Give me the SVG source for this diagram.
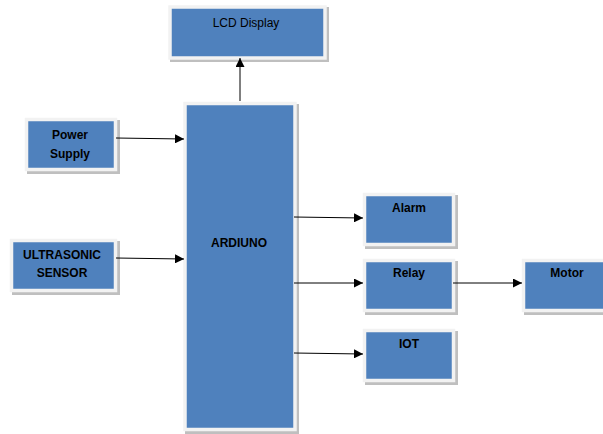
<svg xmlns="http://www.w3.org/2000/svg" width="603" height="434" viewBox="0 0 603 434">
<style>
.sh{fill:#bfbfbf}
.bx{fill:#4f81bd;stroke:#f2f2f2;stroke-width:3.5}
.t{font-family:"Liberation Sans",Arial,sans-serif;font-size:12px;fill:#000;text-anchor:middle}
.b{font-weight:bold}
.c{stroke:#000;stroke-width:1;fill:none;marker-end:url(#ah)}
</style>
<defs>
<marker id="ah" viewBox="0 0 10 10" refX="10" refY="5" markerWidth="9" markerHeight="9" markerUnits="userSpaceOnUse" orient="auto">
<path d="M0,0 L10,5 L0,10 z" fill="#000"/>
</marker>
</defs>
<rect width="603" height="434" fill="#fff"/>
<g id="lcd">
<rect class="sh" x="170" y="7" width="159" height="55"/>
<rect class="bx" x="170" y="7" width="155" height="51"/>
<text class="t" x="246" y="27">LCD Display</text>
</g>
<g id="power">
<rect class="sh" x="27" y="120" width="93" height="54"/>
<rect class="bx" x="26.5" y="119.5" width="89" height="50"/>
<text class="t b" x="70" y="139">Power</text>
<text class="t b" x="70" y="158">Supply</text>
</g>
<g id="ultrasonic">
<rect class="sh" x="12" y="241" width="108" height="54"/>
<rect class="bx" x="11.5" y="240.5" width="104" height="50"/>
<text class="t b" x="62" y="259">ULTRASONIC</text>
<text class="t b" x="62" y="277">SENSOR</text>
</g>
<g id="arduino">
<rect class="sh" x="185" y="104" width="114" height="331"/>
<rect class="bx" x="185" y="103.5" width="110" height="326"/>
<text class="t b" x="239" y="247">ARDIUNO</text>
</g>
<g id="alarm">
<rect class="sh" x="365" y="195" width="93" height="54"/>
<rect class="bx" x="364.5" y="194.5" width="89" height="50"/>
<text class="t b" x="409" y="212">Alarm</text>
</g>
<g id="relay">
<rect class="sh" x="365" y="261" width="93" height="54"/>
<rect class="bx" x="364.5" y="260.5" width="89" height="50"/>
<text class="t b" x="409" y="277">Relay</text>
</g>
<g id="motor">
<rect class="sh" x="524" y="261" width="93" height="54"/>
<rect class="bx" x="523.5" y="260.5" width="89" height="50"/>
<text class="t b" x="567" y="277">Motor</text>
</g>
<g id="iot">
<rect class="sh" x="365" y="331" width="93" height="54"/>
<rect class="bx" x="364.5" y="330.5" width="89" height="50"/>
<text class="t b" x="409" y="348">IOT</text>
</g>
<g id="connectors">
<line class="c" x1="240" y1="101" x2="240" y2="58"/>
<line class="c" x1="116" y1="138" x2="184" y2="139"/>
<line class="c" x1="116" y1="258" x2="184" y2="259"/>
<line class="c" x1="294" y1="217" x2="363" y2="218"/>
<line class="c" x1="294" y1="283" x2="363" y2="283"/>
<line class="c" x1="294" y1="353" x2="363" y2="354"/>
<line class="c" x1="453" y1="283" x2="522" y2="283"/>
</g>
</svg>
